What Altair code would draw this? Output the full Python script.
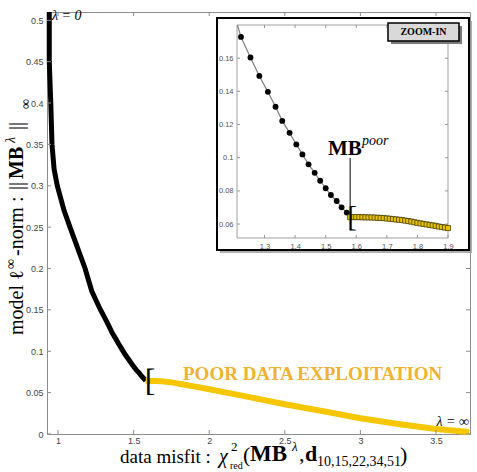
import altair as alt
import pandas as pd

# ---- data -------------------------------------------------------------
# left branch of the trade-off curve (drawn black)
black_x = [0.942, 0.942, 0.952, 0.960, 0.974, 0.995, 1.040, 1.079, 1.179,
           1.223, 1.254, 1.283, 1.311, 1.336, 1.358, 1.382, 1.404, 1.424,
           1.444, 1.464, 1.482, 1.500, 1.517, 1.536, 1.552, 1.569]
black_y = [0.510, 0.450, 0.400, 0.350, 0.320, 0.300, 0.270, 0.250, 0.200,
           0.1728, 0.1604, 0.1493, 0.1397, 0.1307, 0.1222, 0.1150, 0.1080, 0.1020,
           0.0960, 0.0909, 0.0861, 0.0816, 0.0775, 0.0739, 0.0701, 0.0669]

# flat branch after the knee (drawn yellow), dense part shown in the zoom
poor_x = [1.58, 1.59, 1.60, 1.61, 1.62, 1.63, 1.64, 1.65, 1.66, 1.67, 1.68,
          1.69, 1.70, 1.71, 1.72, 1.73, 1.74, 1.75, 1.76, 1.77, 1.78, 1.79,
          1.80, 1.81, 1.82, 1.83, 1.84, 1.85, 1.86, 1.87, 1.88, 1.89, 1.90]
poor_y = [0.0642, 0.0642, 0.0642, 0.0642, 0.0641, 0.0641, 0.0640, 0.0640, 0.0639,
          0.0638, 0.0637, 0.0636, 0.0634, 0.0632, 0.0630, 0.0628, 0.0626, 0.0624,
          0.0621, 0.0618, 0.0615, 0.0611, 0.0607, 0.0604, 0.0601, 0.0598, 0.0595,
          0.0592, 0.0589, 0.0585, 0.0582, 0.0579, 0.0576]
# remaining tail towards lambda = infinity
tail_x = [2.0, 2.2, 2.5, 2.8, 3.0, 3.25, 3.5, 3.72]
tail_y = [0.054, 0.047, 0.036, 0.026, 0.019, 0.012, 0.006, 0.0025]

main_xticks = [1, 1.5, 2, 2.5, 3, 3.5]
main_yticks = [0, 0.05, 0.1, 0.15, 0.2, 0.25, 0.3, 0.35, 0.4, 0.45, 0.5]
inset_xticks = [1.3, 1.4, 1.5, 1.6, 1.7, 1.8, 1.9]
inset_yticks = [0.06, 0.08, 0.1, 0.12, 0.14, 0.16]

# ---- layout -----------------------------------------------------------
W, H = 423, 422
X_DOM, Y_DOM = [0.927, 3.725], [0.0, 0.51]
IX_DOM, IX_RNG = [1.21, 1.90], [190, 401]
IY_DOM, IY_RNG = [0.0516, 0.18], [226, 13]

SERIF = "Liberation Serif"
SANS = "Liberation Sans"
GOLD = "#f6c700"
ORANGE = "#f0b232"
AXGRAY = "#8c8c8c"

mx = alt.Scale(domain=X_DOM, nice=False, zero=False)
my = alt.Scale(domain=Y_DOM, nice=False, zero=False)
ix = alt.Scale(domain=IX_DOM, range=IX_RNG, nice=False, zero=False)
iy = alt.Scale(domain=IY_DOM, range=IY_RNG, nice=False, zero=False)

black = pd.DataFrame({"x": black_x + [poor_x[0]], "y": black_y + [poor_y[0]]})
black["i"] = range(len(black))
yellow = pd.DataFrame({"x": poor_x + tail_x, "y": poor_y + tail_y})
yellow["i"] = range(len(yellow))
knee = pd.DataFrame({"x": [poor_x[0]], "y": [poor_y[0]]})


def clip_top(xs, ys, ytop):
    """Cut a polyline where it leaves the inset through its top edge."""
    out_x, out_y = [], []
    for k in range(len(xs)):
        if ys[k] <= ytop:
            if k > 0 and ys[k - 1] > ytop:
                t = (ys[k - 1] - ytop) / (ys[k - 1] - ys[k])
                out_x.append(xs[k - 1] + t * (xs[k] - xs[k - 1]))
                out_y.append(ytop)
            out_x.append(xs[k])
            out_y.append(ys[k])
    return out_x, out_y


zx, zy = clip_top(black_x + poor_x, black_y + poor_y, IY_DOM[1])
zoom_line = pd.DataFrame({"x": zx, "y": zy})
zoom_line["i"] = range(len(zoom_line))
zoom_black = pd.DataFrame({"x": [v for v in black_x if v >= IX_DOM[0]],
                           "y": [b for a, b in zip(black_x, black_y) if a >= IX_DOM[0]]})
zoom_poor = pd.DataFrame({"x": poor_x, "y": poor_y})

one = pd.DataFrame({"k": [0]})


def txt(s, x, y, size, weight="normal", style="normal", angle=0, align="left",
        baseline="alphabetic", color="black", font=SERIF):
    return alt.Chart(one).mark_text(
        text=s, fontSize=size, font=font, fontWeight=weight, fontStyle=style,
        angle=angle, align=align, baseline=baseline, color=color
    ).encode(x=alt.value(x), y=alt.value(y))


def box(x1, x2, y1, y2, fill, stroke=None, sw=0, opacity=1.0):
    kw = dict(fill=fill, opacity=opacity)
    if stroke:
        kw.update(stroke=stroke, strokeWidth=sw)
    return alt.Chart(one).mark_rect(**kw).encode(
        x=alt.value(x1), x2=alt.value(x2), y=alt.value(y1), y2=alt.value(y2))


# ---- main panel -------------------------------------------------------
main_black = alt.Chart(black).mark_line(color="black", strokeWidth=5).encode(
    x=alt.X("x:Q", scale=mx, title=None,
            axis=alt.Axis(values=main_xticks, ticks=False, domain=False, grid=False,
                          labelFont=SANS, labelFontSize=9, labelColor="#444",
                          labelPadding=2, labelFlush=False, labelOverlap=False,
                          format="~g")),
    y=alt.Y("y:Q", scale=my, title=None,
            axis=alt.Axis(values=main_yticks, ticks=False, domain=False, grid=False,
                          labelFont=SANS, labelFontSize=9, labelColor="#444",
                          labelPadding=4, labelFlush=False, labelOverlap=False,
                          format="~g")),
    order="i:Q")

main_yellow = alt.Chart(yellow).mark_line(color=GOLD, strokeWidth=6).encode(
    x=alt.X("x:Q", scale=mx, axis=None), y=alt.Y("y:Q", scale=my, axis=None),
    order="i:Q")

xt = pd.DataFrame({"v": main_xticks})
yt = pd.DataFrame({"v": main_yticks})
main_ticks = [
    alt.Chart(xt).mark_rule(color=AXGRAY).encode(
        x=alt.X("v:Q", scale=mx, axis=None), y=alt.value(H), y2=alt.value(H - 4)),
    alt.Chart(xt).mark_rule(color=AXGRAY).encode(
        x=alt.X("v:Q", scale=mx, axis=None), y=alt.value(0), y2=alt.value(4)),
    alt.Chart(yt).mark_rule(color=AXGRAY).encode(
        y=alt.Y("v:Q", scale=my, axis=None), x=alt.value(0), x2=alt.value(4)),
    alt.Chart(yt).mark_rule(color=AXGRAY).encode(
        y=alt.Y("v:Q", scale=my, axis=None), x=alt.value(W), x2=alt.value(W - 4)),
]

main_bracket = alt.Chart(knee).mark_text(
    text="[", font=SERIF, fontSize=32, align="left", baseline="middle", dx=-1
).encode(x=alt.X("x:Q", scale=mx, axis=None), y=alt.Y("y:Q", scale=my, axis=None))

poor_label = txt("POOR DATA EXPLOITATION", 136, 368, 19, weight="bold", color=ORANGE)
lam0 = txt("λ = 0", 5, 8, 14, style="italic")
laminf = txt("λ = ∞", 422, 414, 14, style="italic", align="right")

# axis titles, set piece by piece (super/subscripts)
x_title = [
    txt("data misfit :", 73, 451, 19),
    txt("χ", 172, 451, 20, style="italic"),
    txt("2", 184, 439, 13),
    txt("red", 183, 457, 10),
    txt("(", 196, 450, 22),
    txt("MB", 203, 449, 23, weight="bold"),
    txt("λ", 245, 439, 13, style="italic"),
    txt(",", 252, 449, 22),
    txt("d", 258, 449, 22, weight="bold"),
    txt("10,15,22,34,51", 270, 454, 14),
    txt(")", 353, 450, 22),
]
YB = -24
y_title = [
    txt("model ℓ", YB, 323, 20, angle=270),
    txt("∞", YB - 8, 257, 14, angle=270),
    txt("-norm :", YB, 244, 20, angle=270),
    txt("||", YB, 178, 20, angle=270),
    txt("MB", YB, 167, 20, angle=270, weight="bold"),
    txt("λ", YB - 8, 131, 14, angle=270, style="italic"),
    txt("||", YB, 118, 20, angle=270),
    txt("∞", YB + 7, 97, 14, angle=270),
]

# ---- zoom-in inset ----------------------------------------------------
frame = [
    box(173, 425, 9, 241, "#9a9a9a", opacity=0.8),
    box(170, 422, 6, 238, "white", stroke="black", sw=2),
    box(IX_RNG[0], IX_RNG[1], IY_RNG[1], IY_RNG[0], "white", stroke="#a0a0a0", sw=1),
]

ixt = pd.DataFrame({"v": inset_xticks})
iyt = pd.DataFrame({"v": inset_yticks})
inset_ticks = [
    alt.Chart(ixt).mark_rule(color="#999").encode(
        x=alt.X("v:Q", scale=ix, axis=None), y=alt.value(IY_RNG[0]), y2=alt.value(IY_RNG[0] - 3)),
    alt.Chart(ixt).mark_rule(color="#999").encode(
        x=alt.X("v:Q", scale=ix, axis=None), y=alt.value(IY_RNG[1]), y2=alt.value(IY_RNG[1] + 3)),
    alt.Chart(iyt).mark_rule(color="#999").encode(
        y=alt.Y("v:Q", scale=iy, axis=None), x=alt.value(IX_RNG[0]), x2=alt.value(IX_RNG[0] + 3)),
    alt.Chart(iyt).mark_rule(color="#999").encode(
        y=alt.Y("v:Q", scale=iy, axis=None), x=alt.value(IX_RNG[1]), x2=alt.value(IX_RNG[1] - 3)),
]

inset_line = alt.Chart(zoom_line).mark_line(color="#808080", strokeWidth=1.2).encode(
    x=alt.X("x:Q", scale=ix, title=None,
            axis=alt.Axis(values=inset_xticks, orient="bottom", offset=-(H - IY_RNG[0]),
                          ticks=False, domain=False, grid=False, labelFont=SANS,
                          labelFontSize=7.5, labelColor="#555", labelPadding=4,
                          labelFlush=False, labelOverlap=False, zindex=1, format="~g")),
    y=alt.Y("y:Q", scale=iy, title=None,
            axis=alt.Axis(values=inset_yticks, orient="left", offset=-IX_RNG[0],
                          ticks=False, domain=False, grid=False, labelFont=SANS,
                          labelFontSize=7.5, labelColor="#555", labelPadding=4,
                          labelFlush=False, labelOverlap=False, zindex=1, format="~g")),
    order="i:Q")

inset_black = alt.Chart(zoom_black).mark_point(
    shape="circle", filled=True, color="black", size=34, opacity=1
).encode(x=alt.X("x:Q", scale=ix, axis=None), y=alt.Y("y:Q", scale=iy, axis=None))

inset_poor = alt.Chart(zoom_poor).mark_point(
    shape="square", filled=True, fill="#e6c200", stroke="#3b3200", strokeWidth=0.7,
    size=26, opacity=1
).encode(x=alt.X("x:Q", scale=ix, axis=None), y=alt.Y("y:Q", scale=iy, axis=None))

inset_bracket = alt.Chart(knee).mark_text(
    text="[", font=SERIF, fontSize=29, align="left", baseline="middle", dx=-3
).encode(x=alt.X("x:Q", scale=ix, axis=None), y=alt.Y("y:Q", scale=iy, axis=None))

pointer = alt.Chart(knee).mark_rule(color="black", strokeWidth=1).encode(
    x=alt.X("x:Q", scale=ix, axis=None), y=alt.value(146), y2=alt.value(194))

mb_poor = [
    txt("MB", 281, 143, 21, weight="bold"),
    txt("poor", 315, 133, 14, style="italic"),
]

zoom_tag = [
    box(344, 415, 14, 32, "#7a7a7a"),
    box(341, 412, 11, 29, "#d9d9d9", stroke="black", sw=1.5),
    txt("ZOOM-IN", 376.5, 20, 10, weight="bold", align="center", baseline="middle"),
]

layers = ([main_black, main_yellow] + main_ticks + [main_bracket, poor_label, lam0, laminf]
          + x_title + y_title + frame + inset_ticks
          + [inset_line, inset_black, inset_poor, inset_bracket, pointer] + mb_poor + zoom_tag)

chart = alt.layer(*layers).resolve_scale(
    x="independent", y="independent"
).resolve_axis(
    x="independent", y="independent"
).properties(
    width=W, height=H, autosize="none",
    padding={"left": 47, "top": 12, "right": 7, "bottom": 38},
    background="white",
).configure_view(stroke=AXGRAY, strokeWidth=1)

chart.save("out.html", embed_options={"renderer": "svg", "actions": False})
